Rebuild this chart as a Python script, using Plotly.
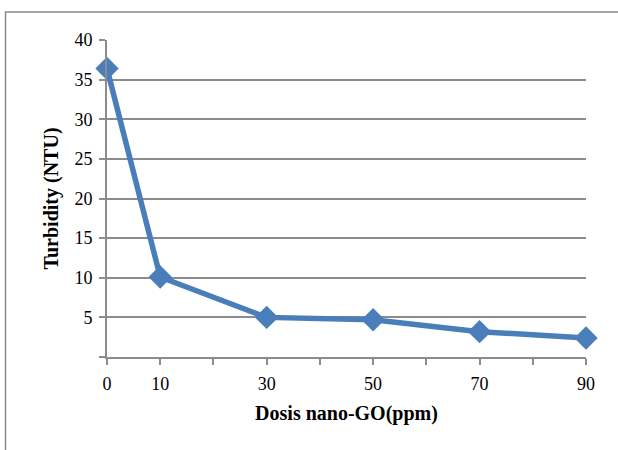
import plotly.graph_objects as go

dose = [0, 10, 30, 50, 70, 90]
turbidity = [36.4, 10.1, 5.0, 4.7, 3.2, 2.4]
x_tick_vals = [0, 10, 20, 30, 40, 50, 60, 70, 80, 90]
x_tick_text = ["0", "10", "", "30", "", "50", "", "70", "", "90"]
y_tick_vals = [0, 5, 10, 15, 20, 25, 30, 35, 40]
y_tick_text = ["", "5", "10", "15", "20", "25", "30", "35", "40"]

W, H = 618, 450
L, R, T, B = 107, 32, 40, 93
pw, ph = W - L - R, H - T - B

fig = go.Figure()
fig.add_trace(go.Scatter(
    x=dose, y=turbidity, mode="lines+markers",
    line=dict(color="#4a7ebb", width=5.5),
    marker=dict(symbol="diamond", size=18, color="#4a7ebb"),
    cliponaxis=False, showlegend=False,
))

grid = "#8c8c8c"
font_serif = "Liberation Serif"
fig.update_layout(
    width=W, height=H,
    margin=dict(l=L, r=R, t=T, b=B),
    paper_bgcolor="white", plot_bgcolor="white",
    font=dict(family=font_serif, size=18, color="#000"),
    xaxis=dict(
        range=[0, 90], tickvals=x_tick_vals, ticktext=x_tick_text,
        showgrid=False, zeroline=False,
        showline=True, linecolor=grid, linewidth=2,
        ticks="outside", ticklen=6, tickcolor=grid, tickwidth=2,
        ticklabelstandoff=3,
        tickfont=dict(family=font_serif, size=18),
        title=dict(text="<b>Dosis nano-GO(ppm)</b>", standoff=13,
                   font=dict(family=font_serif, size=20)),
    ),
    yaxis=dict(
        range=[0, 40], tickvals=y_tick_vals, ticktext=y_tick_text,
        showgrid=True, gridcolor=grid, gridwidth=1.5, zeroline=False,
        showline=True, linecolor=grid, linewidth=2,
        ticks="outside", ticklen=6, tickcolor=grid, tickwidth=2,
        ticklabelstandoff=3,
        tickfont=dict(family=font_serif, size=18),
        title=dict(text="<b>Turbidity (NTU)</b>", standoff=10,
                   font=dict(family=font_serif, size=20)),
    ),
)

# outer chart border
fig.add_shape(type="rect", xref="paper", yref="paper",
              x0=(5.5 - L) / pw, x1=(W + 5 - L) / pw,
              y0=(H - B - (H + 5)) / ph, y1=(H - B - 12) / ph,
              line=dict(color="#8a8a8a", width=1.5), fillcolor="rgba(0,0,0,0)",
              layer="below")

fig.write_html("out.html", config={"displayModeBar": False},
               post_script="document.body.style.margin='0';")
